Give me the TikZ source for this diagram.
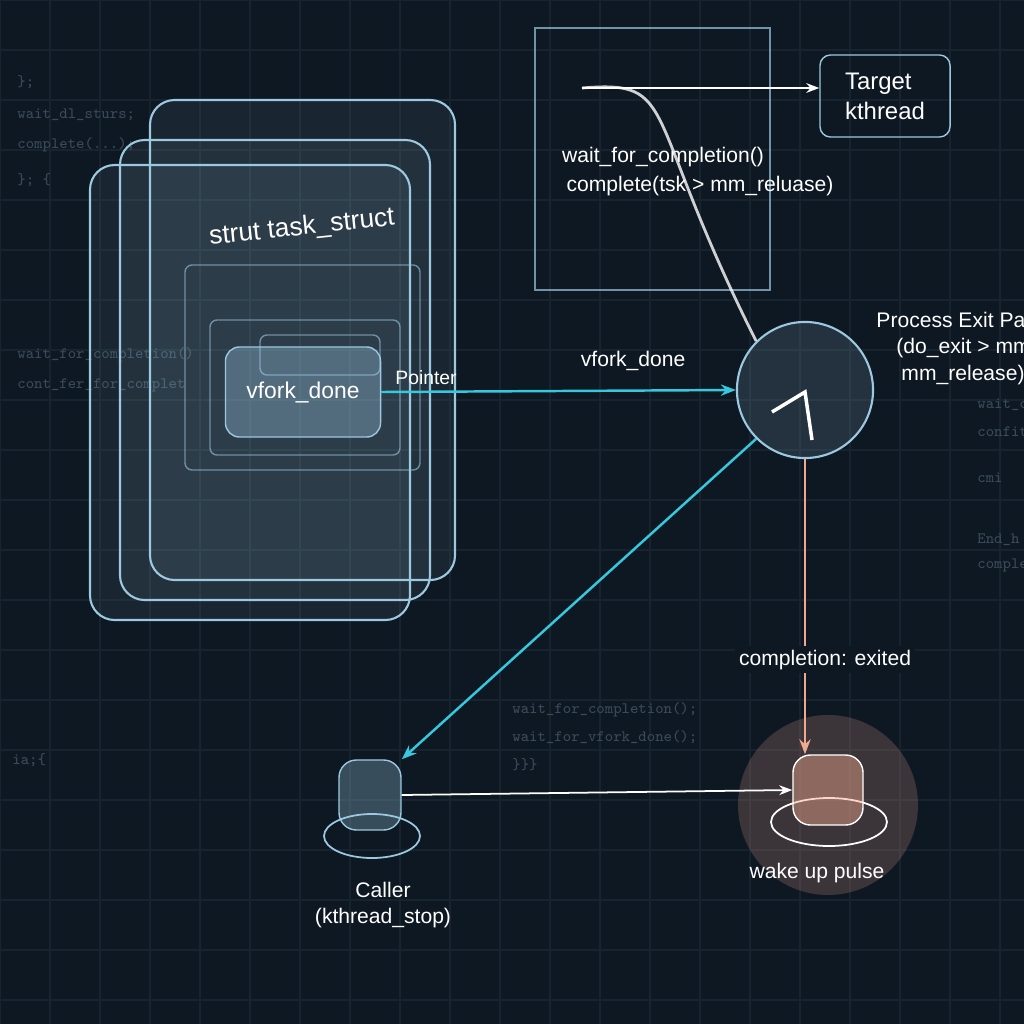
\documentclass[tikz,border=0pt]{standalone}
\usepackage{fontspec}
\setmainfont{Liberation Sans}
\usetikzlibrary{arrows.meta}
\usetikzlibrary{backgrounds}
\usetikzlibrary{calc}
\usetikzlibrary{positioning}
\definecolor{bgdark}{HTML}{0E1822}
\definecolor{gridc}{HTML}{17232E}
\definecolor{glass}{HTML}{9CC8E0}
\definecolor{cyanl}{HTML}{35C8DE}
\definecolor{salmon}{HTML}{F0A890}
\definecolor{codec}{HTML}{3A4A58}
\begin{document}
\begin{tikzpicture}
	[x=0.01cm,y=-0.01cm,
	 lbl/.style={text=white,font=\fontsize{6}{7.5}\selectfont},
	 code/.style={text=codec,font=\ttfamily\fontsize{4.5}{5.5}\selectfont,anchor=west},
	 pane/.style={draw=glass,rounded corners=7pt,line width=0.6pt,fill=glass,fill opacity=0.08},
	 cyanarrow/.style={draw=cyanl,line width=0.7pt,-{Stealth[length=1.5mm]}},
	 whitearrow/.style={draw=white,line width=0.5pt,-{Stealth[length=1.3mm]}}];

	%Background
	\useasboundingbox (0,0) rectangle (1024,1024);
	\begin{scope}
	\clip (0,0) rectangle (1024,1024);
	\fill[bgdark] (0,0) rectangle (1024,1024);
	\foreach \g in {0,50,...,1000}{
		\draw[gridc,line width=0.3pt] (\g,0) -- (\g,1024);
		\draw[gridc,line width=0.3pt] (0,\g) -- (1024,\g);
	}
	\node[code] at (5,82) {\};};
	\node[code] at (5,115) {wait\_dl\_sturs;};
	\node[code] at (5,145) {complete(...);};
	\node[code] at (5,180) {\}; \{};
	\node[code] at (5,355) {wait\_for\_completion()};
	\node[code] at (5,385) {cont\_fer\_for\_complet};
	\node[code] at (0,760) {ia;\{};
	\node[code] at (500,710) {wait\_for\_completion();};
	\node[code] at (500,737) {wait\_for\_vfork\_done();};
	\node[code] at (500,765) {\}\}\}};
	\node[code] at (965,405) {wait\_c};
	\node[code] at (965,432) {confit};
	\node[code] at (965,478) {cmi};
	\node[code] at (965,540) {End\_h};
	\node[code] at (965,565) {comple};

	%task_struct stack
	\draw[pane] (90,165) rectangle (410,620);
	\draw[pane] (120,140) rectangle (430,600);
	\draw[pane] (150,100) rectangle (455,580);
	\draw[glass,opacity=0.6,rounded corners=2pt] (185,265) rectangle (420,470);
	\draw[glass,opacity=0.6,rounded corners=2pt] (210,320) rectangle (400,455);
	\draw[glass,opacity=0.6,rounded corners=2pt] (260,335) rectangle (380,375);
	\node[lbl,font=\fontsize{7.5}{9}\selectfont,rotate=6] (ts) at (302,228) {strut task\_struct};
	\node[draw=glass,fill=glass,fill opacity=0.35,text opacity=1,rounded corners=4pt,
		minimum width=1.55cm,minimum height=0.9cm,lbl,font=\fontsize{6.5}{8}\selectfont] (vd) at (303,392) {vfork\_done};
	\node[lbl,font=\fontsize{5.5}{6.5}\selectfont] (ptr) at (426,378) {Pointer};

	%exit path
	\node[circle,draw=glass,fill=glass,fill opacity=0.15,minimum size=1.36cm,line width=0.6pt] (ex) at (805,390) {};
	\draw[white,line width=1pt] (772,412) -- (805,392) -- (812,440);
	\node[lbl,anchor=west] (pe) at (864,320) {Process Exit Path};
	\node[lbl,anchor=west] (pe2) at (884,348) {(do\_exit > mm\_release)};
	\node[lbl,anchor=west] (pe3) at (889,375) {mm\_release)};

	%completion box
	\draw[glass,opacity=0.7,line width=0.5pt] (535,28) rectangle (770,290);
	\node[lbl] (wc) at (663,157) {wait\_for\_completion()};
	\node[lbl] (cp) at (700,186) {complete(tsk > mm\_reluase)};
	\coordinate (src) at (582,88);
	\draw[white,opacity=0.8,line width=0.8pt] (src) .. controls (680,80) and (640,110) .. (ex.north west);
	\node[draw=glass,rounded corners=3pt,lbl,font=\fontsize{6.8}{8.5}\selectfont,align=left,
		minimum width=1.3cm,minimum height=0.82cm] (tk) at (885,96) {Target\\kthread};
	\draw[whitearrow] (src) -- (tk.west |- src);

	%cups
	\draw[glass,line width=0.5pt] (372,836) ellipse (48 and 22);
	\node[draw=glass,fill=glass,fill opacity=0.3,rounded corners=5pt,minimum width=0.62cm,minimum height=0.7cm] (caller) at (370,795) {};
	\node[lbl,align=center] (cl) at (383,905) {Caller\\(kthread\_stop)};
	\fill[salmon,opacity=0.2] (828,805) circle (90);
	\draw[white,line width=0.5pt] (829,822) ellipse (58 and 24);
	\node[draw=white,fill=salmon,fill opacity=0.45,rounded corners=5pt,minimum width=0.7cm,minimum height=0.7cm] (wake) at (828,790) {};
	\node[lbl] (wu) at (817,873) {wake up pulse};

	%connectors
	\draw[cyanarrow] (vd.east) -- (ex.west) node[pos=0.71,above,lbl,yshift=2pt] {vfork\_done};
	\draw[cyanarrow] (ex.south west) -- (caller.north east);
	\draw[draw=salmon,line width=0.7pt,-{Stealth[length=1.5mm]}] (ex.south) -- (ex.south |- wake.north)
		node[pos=0.68,lbl,fill=bgdark,inner sep=1pt,xshift=0.2cm] {completion: exited};
	\draw[whitearrow] (caller.east) -- (wake.west);
	\end{scope}
\end{tikzpicture}
\end{document}
